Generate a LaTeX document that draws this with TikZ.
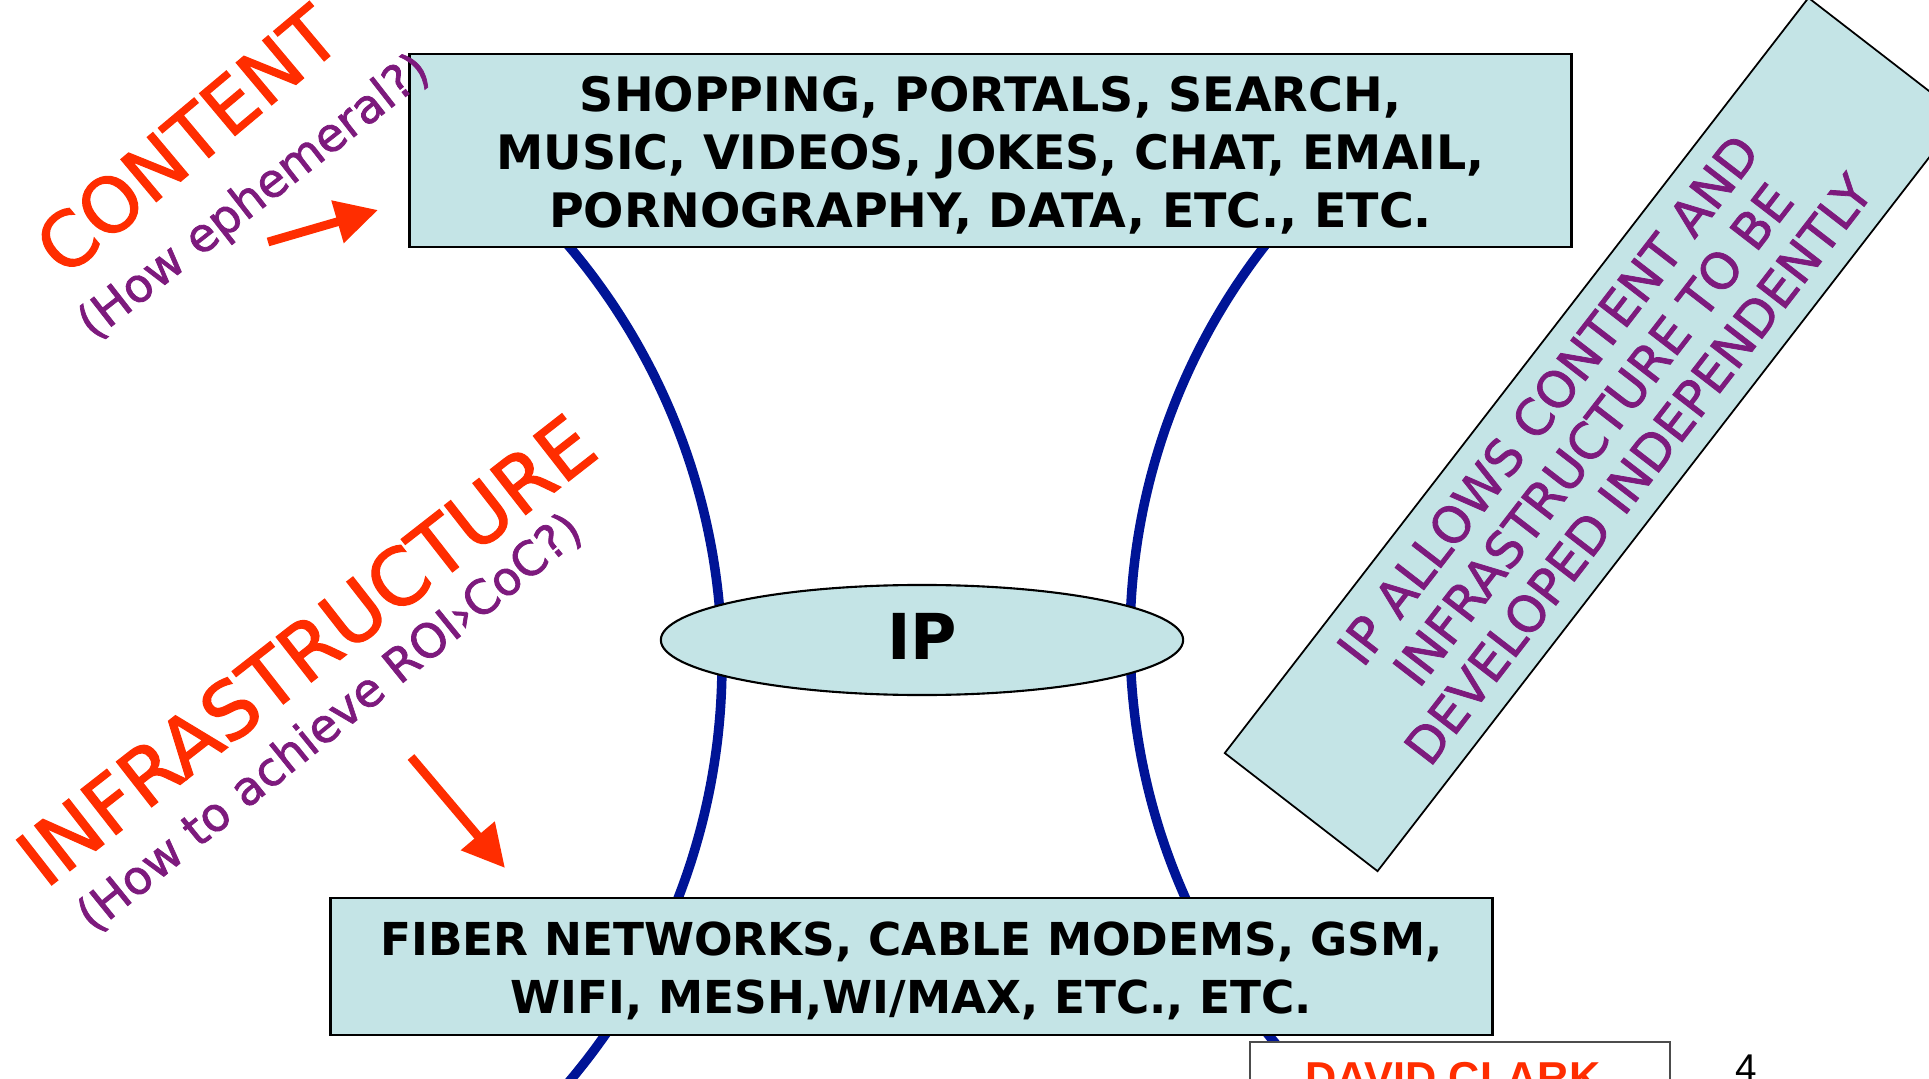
\documentclass[tikz,border=0pt]{standalone}
\usepackage{fontspec}
\setmainfont{DejaVu Sans}
\newfontfamily\handfont{DejaVu Sans}[FakeBold=1.6]
\newfontfamily\footfont{Liberation Sans}
\usetikzlibrary{shapes.geometric,arrows.meta}
\definecolor{boxcyan}{RGB}{196,228,230}
\definecolor{hotred}{RGB}{255,45,0}
\definecolor{plum}{RGB}{125,26,125}
\definecolor{wireblue}{RGB}{0,20,150}
\begin{document}
\begin{tikzpicture}[x=0.01cm,y=-0.01cm,
  layerbox/.style={draw,line width=0.8pt,fill=boxcyan,inner sep=0pt},
  layertext/.style={inner sep=0pt,align=center},
  waist/.style={wireblue,line width=2.7pt},
  pointer/.style={hotred,line width=2.5pt,-{Triangle[length=12pt,width=12pt]}},
  bigword/.style={text=hotred,inner sep=0pt},
  question/.style={text=plum,inner sep=0pt,font=\handfont\fontsize{13.3}{16}\selectfont}]
\useasboundingbox (0,0) rectangle (1929,1079);
\clip (0,0) rectangle (1929,1079);

\draw[waist] plot[domain=-41:42,samples=60,smooth] ({75+647*cos(\x)},{664+647*sin(\x)});
\draw[waist] plot[domain=-39:45,samples=60,smooth] ({1768-638*cos(\x)},{638+638*sin(\x)});

\node[layerbox,minimum width=11.61cm,minimum height=1.93cm] (apps) at (990.5,150.5) {};
\node[layertext,font=\bfseries\fontsize{13.5}{16.5}\selectfont] (appstext) at (990.5,155)
  {SHOPPING, PORTALS, SEARCH,\\MUSIC, VIDEOS, JOKES, CHAT, EMAIL,\\PORNOGRAPHY, DATA, ETC., ETC.};
\node[layerbox,minimum width=11.61cm,minimum height=1.37cm] (links) at (911.5,966.5) {};
\node[layertext,font=\bfseries\fontsize{12.9}{16.5}\selectfont] (linkstext) at (911.5,971)
  {FIBER NETWORKS, CABLE MODEMS, GSM,\\WIFI, MESH,WI/MAX, ETC., ETC.};
\node[ellipse,draw,line width=0.6pt,fill=boxcyan,minimum width=5.22cm,minimum height=1.10cm] (ip) at (922,640) {};
\node[inner sep=0pt,font=\bfseries\fontsize{18}{20}\selectfont] (iptext) at (922,636) {IP};

\node[draw,line width=0.5pt,fill=boxcyan,rotate=52.3,minimum width=9.54cm,minimum height=1.93cm,
  align=center,text=plum,font=\handfont\fontsize{14.2}{16.2}\selectfont] (claim) at (1593,434.5)
  {IP ALLOWS CONTENT AND\\INFRASTRUCTURE TO BE\\DEVELOPED INDEPENDENTLY};

\node[bigword,rotate=40,font=\handfont\fontsize{21.5}{24}\selectfont] (contentword) at (187,140) {CONTENT};
\node[question,rotate=38] (contentq) at (255,198) {(How ephemeral?)};
\node[bigword,rotate=38,font=\handfont\fontsize{22.3}{26}\selectfont] (infraword) at (306,650) {INFRASTRUCTURE};
\node[question,rotate=39] (infraq) at (330,723) {(How to achieve ROI›CoC?)};

\coordinate (topfrom) at (268,242);
\coordinate (topto) at (378,210);
\coordinate (lowfrom) at (411,757);
\coordinate (lowto) at (505,868);
\draw[pointer] (topfrom) -- (topto);
\draw[pointer] (lowfrom) -- (lowto);

\node[draw=black!70,line width=0.5pt,fill=white,anchor=north west,minimum width=4.2cm,
  minimum height=1cm,inner sep=0pt] (footer) at (1249,1041) {};
\node[anchor=base,text=hotred,inner sep=0pt,font=\footfont\bfseries\fontsize{12.3}{14}\selectfont]
  (author) at (1453,1092) {DAVID CLARK};
\node[anchor=base,inner sep=0pt,font=\footfont\fontsize{11}{13}\selectfont] (pageno) at (1746,1081) {4};
\end{tikzpicture}
\end{document}
